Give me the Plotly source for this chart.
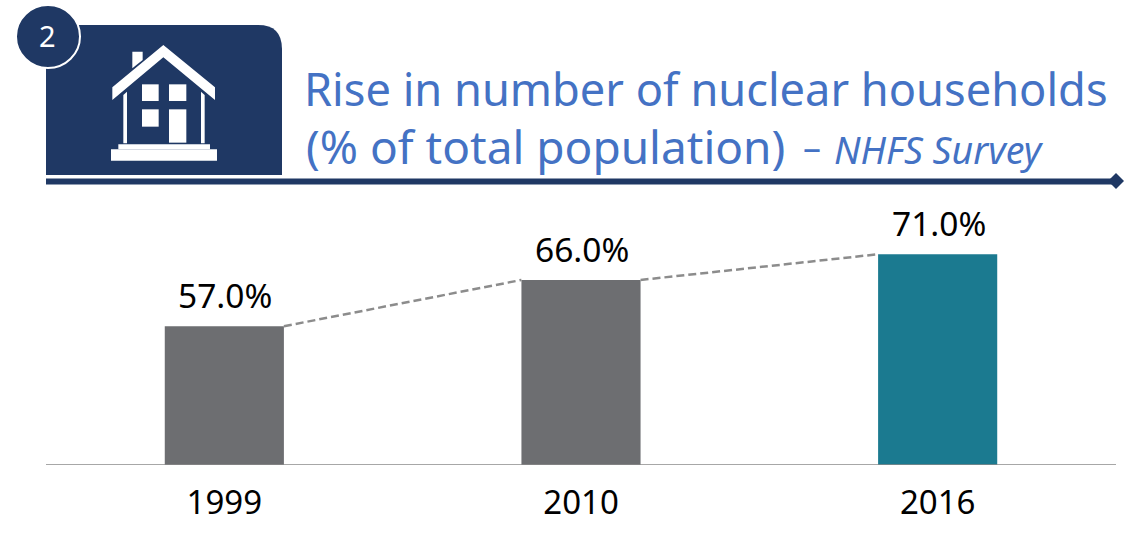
import plotly.graph_objects as go

years = ["1999", "2010", "2016"]
values = [57.0, 66.0, 71.0]
bar_colors = ["#6D6E71", "#6D6E71", "#1B7A90"]
title_line1 = "Rise in number of nuclear households"
title_line2 = "(% of total population)"
title_dash = "–"
title_source = "NHFS Survey"
badge = "2"

W, H = 1127, 548
NAVY = "#1F3864"
BLUE = "#4472C4"
FONT = "Noto Sans"
BAR_W = 0.334
positions = list(range(len(years)))
L, R, T, B = 46, 11, 208, 83
PW, PH = W - L - R, H - T - B

fx = lambda p: (p - L) / PW
fy = lambda p: (T + PH - p) / PH

def poly(points, fill=NAVY, line=None, lw=0):
    path = "M" + " L".join(f"{fx(x):.5f},{fy(y):.5f}" for x, y in points) + " Z"
    return dict(type="path", xref="paper", yref="paper", path=path, fillcolor=fill,
                line=dict(color=line or fill, width=lw), layer="above")

def rect(x0, y0, x1, y1, fill="white"):
    return poly([(x0, y0), (x1, y0), (x1, y1), (x0, y1)], fill)

fig = go.Figure()
fig.add_trace(go.Bar(
    x=positions, y=values, width=BAR_W, marker=dict(color=bar_colors, line=dict(width=0)),
    hoverinfo="skip"))

for i in range(len(values) - 1):
    fig.add_trace(go.Scatter(
        x=[positions[i] + BAR_W / 2, positions[i + 1] - BAR_W / 2],
        y=[values[i], values[i + 1]], mode="lines",
        line=dict(color="#8C8C8C", width=2.5, dash="8px,4px"), hoverinfo="skip"))

# rounded header box
r = 24
x0, y0, x1, y1 = 46, 25, 282, 175
box = (f"M{fx(x0):.5f},{fy(y0):.5f} L{fx(x1 - r):.5f},{fy(y0):.5f} "
       f"Q{fx(x1):.5f},{fy(y0):.5f} {fx(x1):.5f},{fy(y0 + r):.5f} "
       f"L{fx(x1):.5f},{fy(y1):.5f} L{fx(x0):.5f},{fy(y1):.5f} Z")
s = lambda pts: [(x / 3, y / 3) for x, y in pts]
shapes = [
    dict(type="path", xref="paper", yref="paper", path=box, fillcolor=NAVY, line=dict(width=0), layer="above"),
    rect(46, 178.5, 1116, 184.5, NAVY),
    poly([(1116, 173), (1124, 181), (1116, 189), (1108, 181)], NAVY),
    dict(type="circle", xref="paper", yref="paper", x0=fx(16), x1=fx(80), y0=fy(5), y1=fy(68),
         fillcolor=NAVY, line=dict(color="white", width=2), layer="above"),
    poly(s([(397, 155), (428, 155), (428, 180), (397, 205)]), "white"),
    poly(s([(490, 135), (645, 262), (645, 300), (490, 172), (337, 300), (337, 262)]), "white"),
    poly(s([(370, 285), (381, 275), (381, 430), (370, 430)]), "white"),
    poly(s([(603, 275), (614, 285), (614, 430), (603, 430)]), "white"),
    poly(s([(426, 253), (476, 253), (476, 303), (426, 303)]), "white"),
    poly(s([(507, 253), (559, 253), (559, 303), (507, 303)]), "white"),
    poly(s([(426, 328), (476, 328), (476, 380), (426, 380)]), "white"),
    poly(s([(507, 328), (559, 328), (559, 428), (507, 428)]), "white"),
    poly(s([(355, 433), (630, 433), (630, 448), (355, 448)]), "white"),
    poly(s([(333, 448), (651, 448), (651, 482), (333, 482)]), "white"),
]

def label(x, y, text, size, color=BLUE, xanchor="left", family=FONT):
    return dict(x=fx(x), y=fy(y), xref="paper", yref="paper", text=text, showarrow=False,
                xanchor=xanchor, yanchor="middle", font=dict(size=size, color=color, family=family))

annotations = [
    label(302, 88, title_line1, 45.2),
    label(304, 146, title_line2, 46),
    label(801, 146, title_dash, 36),
    label(832, 150, f"<i>{title_source}</i>", 37.5),
    label(47, 35, badge, 29, "white", "center"),
]
for p, v in zip(positions, values):
    annotations.append(dict(x=p, y=v, xref="x", yref="y", text=f"{v:.1f}%", showarrow=False,
                            xanchor="center", yanchor="bottom", yshift=6, xshift=1,
                            font=dict(size=33.5, color="#000000", family=FONT)))

fig.update_layout(
    width=W, height=H, autosize=False, showlegend=False,
    margin=dict(l=L, r=R, t=T, b=B),
    paper_bgcolor="white", plot_bgcolor="white",
    shapes=shapes, annotations=annotations,
    xaxis=dict(range=[-0.5, 2.5], tickmode="array", tickvals=positions, ticktext=years,
               showgrid=False, zeroline=False, showline=False, ticks="", ticklabelstandoff=15,
               tickfont=dict(size=33, color="#000000", family=FONT)),
    yaxis=dict(range=[30, 80], visible=False, showgrid=False, zeroline=False),
)
fig.add_shape(type="line", xref="x domain", yref="y", x0=0, x1=1, y0=30, y1=30,
              line=dict(color="#8A8A8A", width=1.5))
fig.write_html("out.html", config=dict(displayModeBar=False),
               post_script="document.body.style.margin='0';document.body.style.overflow='hidden';")
